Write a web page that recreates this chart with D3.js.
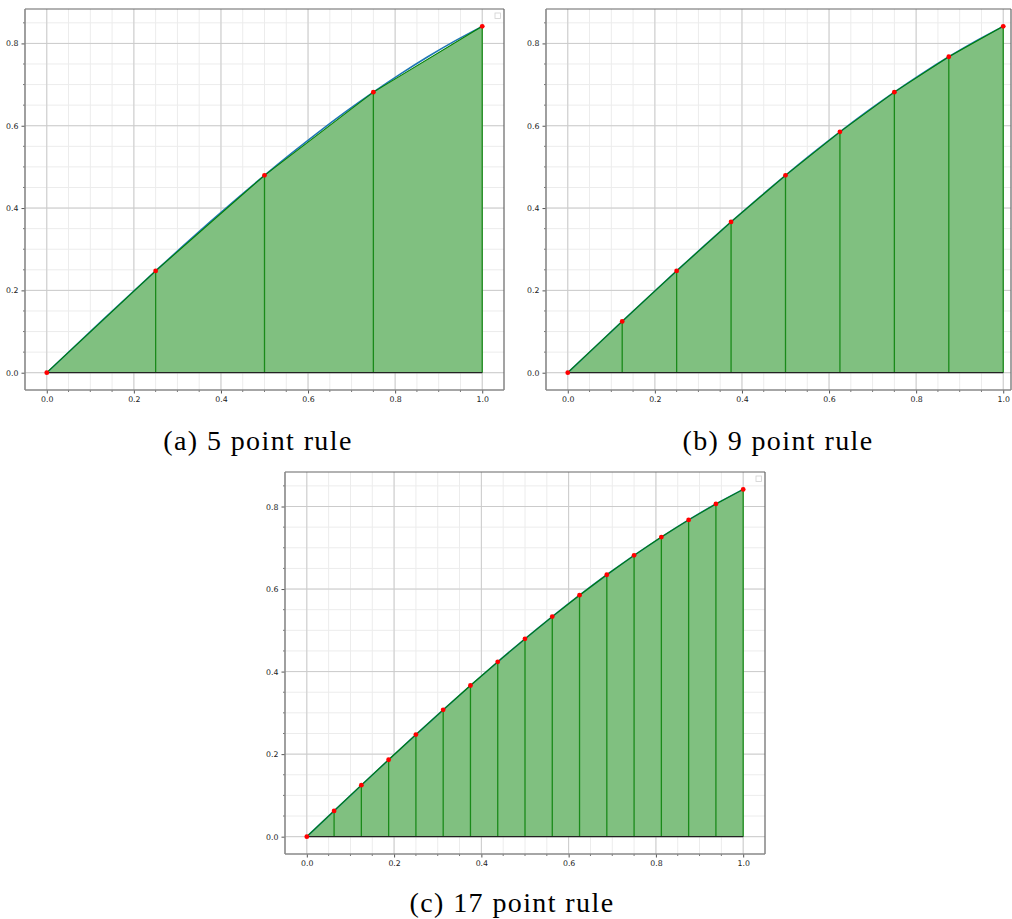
<!DOCTYPE html>
<html>
<head>
<meta charset="utf-8">
<script src="https://cdn.jsdelivr.net/npm/d3@7"></script>
<style>
  html, body { margin: 0; padding: 0; background: #fff; }
  svg { display: block; }
  .tick text { font-family: "DejaVu Sans", sans-serif; }
</style>
</head>
<body>
<svg id="chart" width="1012" height="919"></svg>
<script>
// Sample abscissae and ordinates (f(x) = sin x) for each trapezoid rule
const x5 = [0, 0.25, 0.5, 0.75, 1.0];
const y5 = [0, 0.24740, 0.47943, 0.68164, 0.84147];

const x9 = [0, 0.125, 0.25, 0.375, 0.5, 0.625, 0.75, 0.875, 1.0];
const y9 = [0, 0.12467, 0.24740, 0.36627, 0.47943, 0.58510, 0.68164, 0.76754, 0.84147];

const x17 = [0, 0.0625, 0.125, 0.1875, 0.25, 0.3125, 0.375, 0.4375, 0.5,
             0.5625, 0.625, 0.6875, 0.75, 0.8125, 0.875, 0.9375, 1.0];
const y17 = [0, 0.06246, 0.12467, 0.18640, 0.24740, 0.30743, 0.36627, 0.42367, 0.47943,
             0.53330, 0.58510, 0.63465, 0.68164, 0.72597, 0.76754, 0.80616, 0.84147];

// The exact curve, traced through its densest sample set
const curveX = x17;
const curveY = y17;

const xTicks = [0.0, 0.2, 0.4, 0.6, 0.8, 1.0];
const yTicks = [0.0, 0.2, 0.4, 0.6, 0.8];
const captions = ["(a) 5 point rule", "(b) 9 point rule", "(c) 17 point rule"];

const svg = d3.select("#chart");

const panels = [
  { xs: x5,  ys: y5,  left: 25,  right: 504,  top: 9,   bottom: 390, clipRight: 504,  legend: true,
    caption: captions[0], cx: 258, cy: 450 },
  { xs: x9,  ys: y9,  left: 546, right: 1025, top: 9,   bottom: 390, clipRight: 1011, legend: false,
    caption: captions[1], cx: 778, cy: 450 },
  { xs: x17, ys: y17, left: 285, right: 765,  top: 472, bottom: 854, clipRight: 765,  legend: true,
    caption: captions[2], cx: 512, cy: 912 }
];

const xDomain = [-0.05, 1.05];
const yDomain = [-0.042, 0.8836];
const minorStep = 0.05;

panels.forEach((p, idx) => {
  const x = d3.scaleLinear().domain(xDomain).range([p.left, p.right]);
  const y = d3.scaleLinear().domain(yDomain).range([p.bottom, p.top]);
  const visRight = p.clipRight;

  const g = svg.append("g");
  const clipId = "clip" + idx;
  g.append("clipPath").attr("id", clipId)
    .append("rect")
    .attr("x", p.left).attr("y", p.top)
    .attr("width", visRight - p.left).attr("height", p.bottom - p.top);

  const plot = g.append("g").attr("clip-path", `url(#${clipId})`);

  // minor grid
  const xMinor = d3.range(-0.05, 1.05001, minorStep).filter(v => v > -0.049 && v < 1.049);
  const yMinor = d3.range(0, 0.8836, minorStep);
  plot.selectAll(".gxm").data(xMinor).join("line")
    .attr("x1", d => x(d)).attr("x2", d => x(d))
    .attr("y1", p.top).attr("y2", p.bottom)
    .attr("stroke", "#ececec").attr("stroke-width", 1);
  plot.selectAll(".gym").data(yMinor).join("line")
    .attr("x1", p.left).attr("x2", visRight)
    .attr("y1", d => y(d)).attr("y2", d => y(d))
    .attr("stroke", "#ececec").attr("stroke-width", 1);

  // major grid
  plot.selectAll(".gx").data(xTicks).join("line")
    .attr("x1", d => x(d)).attr("x2", d => x(d))
    .attr("y1", p.top).attr("y2", p.bottom)
    .attr("stroke", "#cbcbcb").attr("stroke-width", 1);
  plot.selectAll(".gy").data(yTicks).join("line")
    .attr("x1", p.left).attr("x2", visRight)
    .attr("y1", d => y(d)).attr("y2", d => y(d))
    .attr("stroke", "#cbcbcb").attr("stroke-width", 1);

  const pts = p.xs.map((v, i) => [v, p.ys[i]]);

  // trapezoid area
  const area = d3.area().x(d => x(d[0])).y0(y(0)).y1(d => y(d[1]));
  plot.append("path").datum(pts)
    .attr("d", area)
    .attr("fill", "rgb(128,192,128)");

  // exact curve
  const curvePts = curveX.map((v, i) => [v, curveY[i]]);
  plot.append("path").datum(curvePts)
    .attr("d", d3.line().x(d => x(d[0])).y(d => y(d[1])).curve(d3.curveNatural))
    .attr("fill", "none").attr("stroke", "#1f77b4").attr("stroke-width", 1.6);

  // trapezoid tops
  plot.append("path").datum(pts)
    .attr("d", d3.line().x(d => x(d[0])).y(d => y(d[1])))
    .attr("fill", "none").attr("stroke", "#008000").attr("stroke-width", 1.1);

  // trapezoid sides
  plot.selectAll(".side").data(pts.slice(1)).join("line")
    .attr("x1", d => x(d[0])).attr("x2", d => x(d[0]))
    .attr("y1", y(0)).attr("y2", d => y(d[1]))
    .attr("stroke", "#1a8a1a").attr("stroke-width", 1.3);

  // base line
  plot.append("line")
    .attr("x1", x(0)).attr("x2", x(1))
    .attr("y1", y(0)).attr("y2", y(0))
    .attr("stroke", "#222").attr("stroke-width", 1.2);

  // sample points
  plot.selectAll(".pt").data(pts).join("circle")
    .attr("cx", d => x(d[0])).attr("cy", d => y(d[1]))
    .attr("r", 2.4).attr("fill", "red");

  // empty legend box
  if (p.legend) {
    g.append("rect")
      .attr("x", p.right - 9).attr("y", p.top + 4)
      .attr("width", 5.5).attr("height", 5.5)
      .attr("fill", "#fff").attr("stroke", "#d0d0d0").attr("stroke-width", 0.8);
  }

  // axes
  const xAxis = d3.axisBottom(x).tickValues(xTicks).tickFormat(d3.format(".1f"))
    .tickSize(3.5).tickPadding(3);
  const xa = g.append("g").attr("transform", `translate(0,${p.bottom})`).call(xAxis);
  const yAxis = d3.axisLeft(y).tickValues(yTicks).tickFormat(d3.format(".1f"))
    .tickSize(3.5).tickPadding(3);
  const ya = g.append("g").attr("transform", `translate(${p.left},0)`).call(yAxis);
  [xa, ya].forEach(a => {
    a.select(".domain").remove();
    a.selectAll(".tick line").attr("stroke", "#555");
    a.selectAll(".tick text").attr("font-size", 7.8).attr("fill", "#222");
  });

  // minor ticks
  const xMinorTicks = d3.range(0, 1.0001, minorStep).filter(v => Math.abs(v * 5 - Math.round(v * 5)) > 1e-6);
  g.selectAll(".mtx").data(xMinorTicks).join("line")
    .attr("x1", d => x(d)).attr("x2", d => x(d))
    .attr("y1", p.bottom).attr("y2", p.bottom + 2)
    .attr("stroke", "#555").attr("stroke-width", 0.8);
  const yMinorTicks = d3.range(0, 0.8836, minorStep).filter(v => Math.abs(v * 5 - Math.round(v * 5)) > 1e-6);
  g.selectAll(".mty").data(yMinorTicks).join("line")
    .attr("x1", p.left - 2).attr("x2", p.left)
    .attr("y1", d => y(d)).attr("y2", d => y(d))
    .attr("stroke", "#555").attr("stroke-width", 0.8);

  // frame
  g.append("line").attr("x1", p.left).attr("x2", visRight).attr("y1", p.top).attr("y2", p.top)
    .attr("stroke", "#666").attr("stroke-width", 1.2);
  g.append("line").attr("x1", visRight).attr("x2", visRight).attr("y1", p.top).attr("y2", p.bottom)
    .attr("stroke", "#666").attr("stroke-width", 1.2);
  g.append("line").attr("x1", p.left).attr("x2", p.left).attr("y1", p.top).attr("y2", p.bottom)
    .attr("stroke", "#888").attr("stroke-width", 1.6);
  g.append("line").attr("x1", p.left).attr("x2", visRight).attr("y1", p.bottom).attr("y2", p.bottom)
    .attr("stroke", "#888").attr("stroke-width", 1.6);

  // caption
  svg.append("text")
    .attr("x", p.cx).attr("y", p.cy)
    .attr("text-anchor", "middle")
    .attr("font-family", "'Liberation Serif', 'DejaVu Serif', serif")
    .attr("font-size", 28)
    .attr("letter-spacing", 1.4)
    .attr("fill", "#000")
    .text(p.caption);
});
</script>
</body>
</html>
